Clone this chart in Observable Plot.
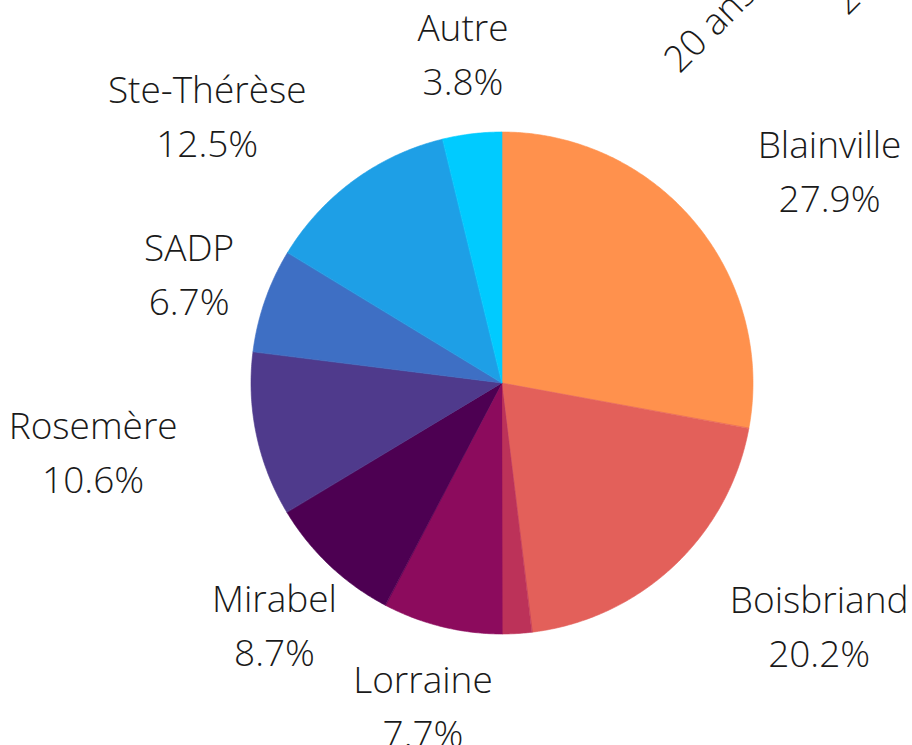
<!DOCTYPE html>
<html>
<head>
<meta charset="utf-8">
<script src="https://cdn.jsdelivr.net/npm/d3@7"></script>
<script src="https://cdn.jsdelivr.net/npm/@observablehq/plot@0.6"></script>
<style>
  html, body { margin: 0; padding: 0; background: #fff; overflow: hidden; }
  #chart svg { display: block; }
</style>
</head>
<body>
<div id="chart"></div>
<script>
// ---- data ----
const categories = ["Blainville", "Boisbriand", "Non précisé", "Lorraine", "Mirabel", "Rosemère", "SADP", "Ste-Thérèse", "Autre"];
const shares     = [27.9, 20.2, 1.9, 7.7, 8.7, 10.6, 6.7, 12.5, 3.8];
const colors     = ["#ff914d", "#e3605a", "#bc3259", "#8c0b5d", "#4d0052", "#4f3a8c", "#3e6fc4", "#1e9fe6", "#00cbff"];
const topTicks   = ["20 ans et moins", "25 ans et plus"];

// ---- layout ----
const W = 912, H = 745;
const cx = 502, cy = 383, R = 251, RL = 332;
const FONT = 37;
const total = d3.sum(shares);

// slice polygons (center + arc points)
const pts = [];
const slices = [];
let acc = 0;
categories.forEach((name, i) => {
  const a0 = acc / total * 2 * Math.PI;
  acc += shares[i];
  const a1 = acc / total * 2 * Math.PI;
  slices.push({name, share: shares[i], a0, a1, mid: (a0 + a1) / 2});
  const n = Math.max(2, Math.ceil((a1 - a0) / (Math.PI / 360)));
  for (let k = 0; k <= n; k++) {
    const a = a0 + (a1 - a0) * k / n;
    pts.push({name, x1: cx, y1: cy, x2: cx + R * Math.sin(a), y2: cy - R * Math.cos(a)});
  }
});

// label placement: block centred on the anchor point unless it would cover the pie,
// in which case the block's near edge sits on the anchor point
const ctx = document.createElement("canvas").getContext("2d");
ctx.font = `300 ${FONT}px "Open Sans"`;
const labels = slices.filter(s => s.share >= 2).map(s => {
  const pct = s.share.toFixed(1) + "%";
  const text = `${s.name}\n${pct}`;
  const w = Math.max(ctx.measureText(s.name).width, ctx.measureText(pct).width);
  let x = cx + RL * Math.sin(s.mid);
  const y = cy - RL * Math.cos(s.mid) - 3;
  const hh = FONT * 1.2;
  const nx = Math.max(x - w / 2, Math.min(cx, x + w / 2));
  const ny = Math.max(y - hh, Math.min(cy, y + hh));
  const overlap = Math.hypot(nx - cx, ny - cy) < R;
  if (overlap) x += (x > cx ? 1 : -1) * w / 2;
  return {text, x, y};
});

const tickPos = [{x: 679, y: 74}, {x: 847, y: 16}];
const ticks = topTicks.map((t, i) => ({text: t, ...tickPos[i]}));

const chart = Plot.plot({
  width: W, height: H,
  margin: 0,
  style: {background: "#fff", overflow: "hidden"},
  x: {domain: [0, W], range: [0, W], axis: null},
  y: {domain: [0, H], range: [0, H], axis: null},
  color: {domain: categories, range: colors},
  marks: [
    Plot.area(pts, {x1: "x1", y1: "y1", x2: "x2", y2: "y2", z: "name", fill: "name", stroke: "name", strokeWidth: 0.6, curve: "linear"}),
    Plot.text(labels, {x: "x", y: "y", text: "text", textAnchor: "middle", lineAnchor: "middle",
      fontFamily: "Open Sans", fontWeight: 300, fontSize: FONT, lineHeight: 1.45, fill: "#1a1a1a"}),
    Plot.text(ticks, {x: "x", y: "y", text: "text", rotate: -45, textAnchor: "start", lineAnchor: "bottom",
      fontFamily: "Open Sans", fontWeight: 300, fontSize: FONT, fill: "#1a1a1a"})
  ]
});
document.getElementById("chart").appendChild(chart);
</script>
</body>
</html>
